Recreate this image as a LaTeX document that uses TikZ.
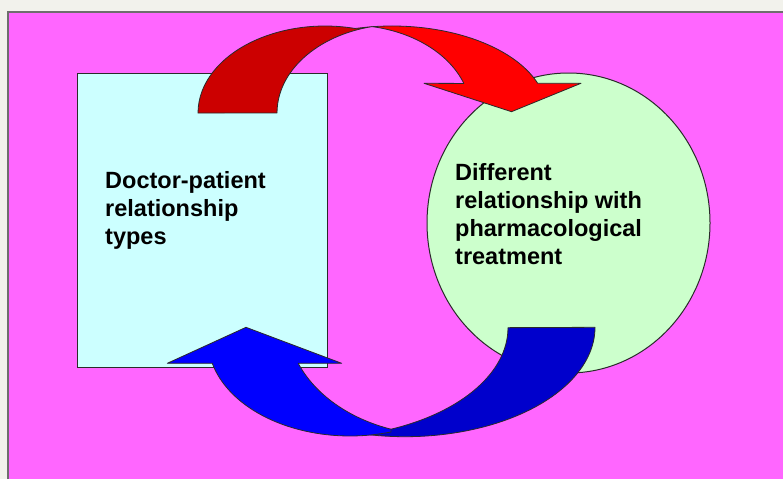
\documentclass[tikz,border=0pt]{standalone}
\usepackage{fontspec}
\setmainfont{Liberation Sans}
\usetikzlibrary{shapes.geometric}

\definecolor{pagebg}{HTML}{F2F2EC}
\definecolor{magbg}{HTML}{FF66FF}
\definecolor{framegray}{HTML}{6E6E6E}
\definecolor{boxfill}{HTML}{CCFFFF}
\definecolor{circfill}{HTML}{CCFFCC}
\definecolor{reddark}{HTML}{CC0000}
\definecolor{redlight}{HTML}{FF0000}
\definecolor{bluedark}{HTML}{0000CC}
\definecolor{bluelight}{HTML}{0000FF}
\definecolor{edgecol}{HTML}{2A2A2A}

\begin{document}
\begin{tikzpicture}[x=1pt,y=-1pt,
  band/.style={draw=edgecol, line width=0.8pt, line join=round},
  shapebox/.style={draw=edgecol, line width=1pt, inner sep=0pt},
  lbl/.style={anchor=base west, inner sep=0pt, text=black,
    font={\bfseries\fontsize{23.5}{28.3}\selectfont}}]

\useasboundingbox (0,0) rectangle (783,479);
\fill[pagebg] (0,0) rectangle (783,479);
\fill[magbg] (8,12) rectangle (783,479);
\draw[framegray, line width=1.5pt] (8,479) -- (8,12) -- (783,12);

% left box
\node[shapebox, fill=boxfill, minimum width=250pt, minimum height=294pt,
      anchor=north west] (doc) at (76.7,72.7) {};
% right ellipse
\node[shapebox, ellipse, fill=circfill, minimum width=283pt, minimum height=300pt]
      (treat) at (568.5,223) {};

\node[lbl] (doctxt) at (105,188.3)
  {\begin{tabular}[t]{@{}l@{}}Doctor-patient\\relationship\\types\end{tabular}};
\node[lbl] (treattxt) at (455,180)
  {\begin{tabular}[t]{@{}l@{}}Different\\relationship with\\pharmacological\\treatment\end{tabular}};

% red curved arrow: back band
\draw[band, fill=reddark] (198,113)
  arc[start angle=180, end angle=283.66, x radius=127, y radius=87]
  -- (372,26.6)
  arc[start angle=257.2, end angle=180, x radius=122, y radius=88.6]
  -- cycle;
% red curved arrow: front band with head
\draw[band, fill=redlight] (372,26.6)
  arc[start angle=280.5, end angle=340.28, x radius=121, y radius=88]
  -- (424,83.3) -- (511.5,111.7) -- (581,83.3) -- (537.7,83.3)
  arc[start angle=340.04, end angle=262.6, x radius=155, y radius=87]
  -- cycle;

% blue curved arrow: back band
\draw[band, fill=bluedark] (595,327.3)
  arc[start angle=0, end angle=100.6, x radius=190, y radius=109.4]
  -- (391,429.2)
  arc[start angle=67.4, end angle=0, x radius=190, y radius=110]
  -- cycle;
% blue curved arrow: front band with head
\draw[band, fill=bluelight] (391,429.2)
  arc[start angle=108.68, end angle=157.94, x radius=153, y radius=115.3]
  -- (341.7,363.3) -- (246,327.3) -- (167.3,363.3) -- (212.3,363.3)
  arc[start angle=165.95, end angle=73.22, x radius=142, y radius=96]
  -- cycle;

\end{tikzpicture}
\end{document}
